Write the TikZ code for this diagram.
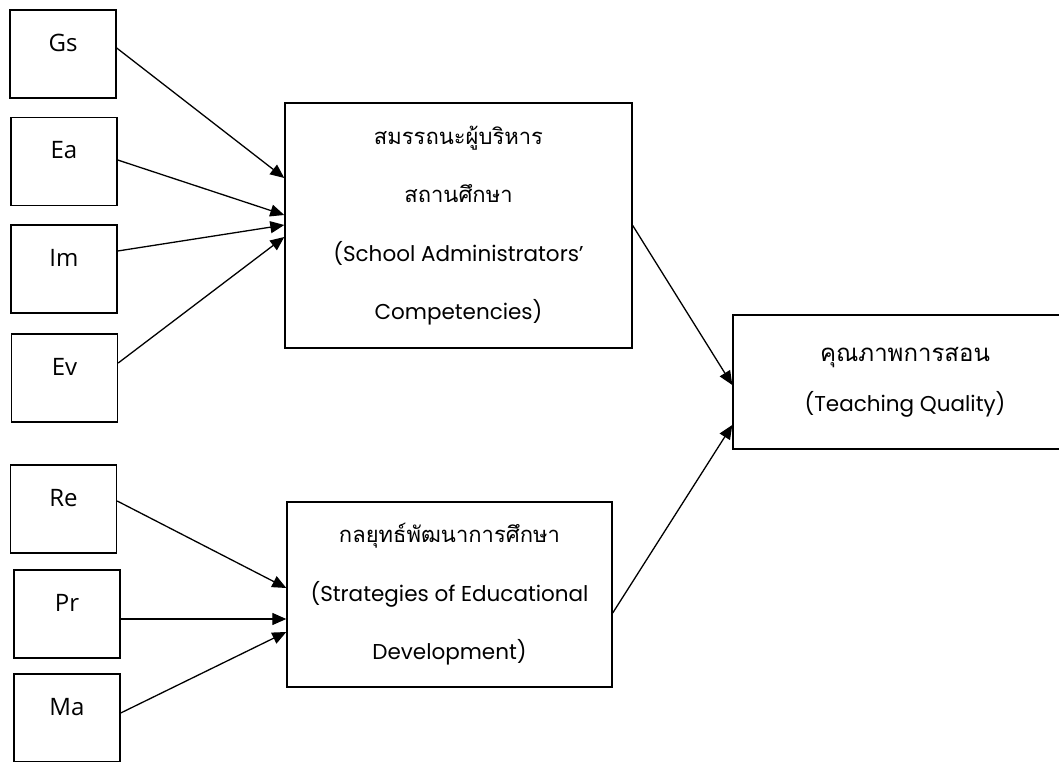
\documentclass[tikz,border=0pt]{standalone}
\usepackage{fontspec}
\setmainfont{Open Sans}
\newfontfamily\thaifont[Script=Thai]{Loma}
\newfontfamily\latinfont{Poppins}
\newcommand{\eng}[1]{{\latinfont\fontsize{21.5}{58.5}\selectfont #1}}
\usetikzlibrary{
    positioning, % posicionamento relativo
    arrows.meta  % pontas de seta
}

\begin{document}
\begin{tikzpicture}[x=1pt, y=1pt]

    % --- Estilos ---
    \tikzset{
        var/.style={draw, line width=1.4pt, minimum width=106pt, minimum height=88pt,
            inner sep=0pt, font=\fontsize{24}{28}\selectfont,
            text height=17pt, text depth=22pt},
        construct/.style={draw, line width=1.4pt, align=center, inner sep=0pt,
            font=\thaifont\fontsize{22}{58.5}\selectfont},
        arrow/.style={-{Triangle[length=14pt, width=12pt]}, line width=1.3pt, black}
    }

    \useasboundingbox (0,0) rectangle (1059,-762);

    % --- Variaveis observadas ---
    \node[var] (gs) at (63,-54)    {Gs};
    \node[var] (ea) at (64,-161.5) {Ea};
    \node[var] (im) at (64,-269)   {Im};
    \node[var] (ev) at (64.5,-378) {Ev};
    \node[var] (re) at (63.5,-509) {Re};
    \node[var] (pr) at (67,-614)   {Pr};
    \node[var] (ma) at (67,-718)   {Ma};

    % --- Construtos ---
    \node[construct, minimum width=347pt, minimum height=245pt] (comp) at (458.5,-225.5)
        {สมรรถนะผู้บริหาร\\ สถานศึกษา\\ \eng{(School Administrators’}\\ \eng{Competencies)}};
    \node[construct, minimum width=325pt, minimum height=185pt] (strat) at (449.5,-594.5)
        {กลยุทธ์พัฒนาการศึกษา\\ \eng{(Strategies of Educational}\\ \eng{Development)}};
    \node[construct, minimum width=344pt, minimum height=134pt,
          font=\thaifont\fontsize{24}{50}\selectfont] (quality) at (905,-382)
        {คุณภาพการสอน\\ \eng{(Teaching Quality)}};

    % --- Setas ---
    \draw[arrow] ([yshift=6pt]gs.east)   -- ([yshift=47.5pt]comp.west);
    \draw[arrow] ([yshift=1.5pt]ea.east) -- ([yshift=10.5pt]comp.west);
    \draw[arrow] ([yshift=18pt]im.east)  -- ([yshift=0.5pt]comp.west);
    \draw[arrow] ([yshift=15pt]ev.east)  -- ([yshift=-11.5pt]comp.west);

    \draw[arrow] ([yshift=8pt]re.east)   -- ([yshift=6.5pt]strat.west);
    \draw[arrow] ([yshift=-5pt]pr.east)  -- ([yshift=-24.5pt]strat.west);
    \draw[arrow] ([yshift=5pt]ma.east)   -- ([yshift=-37.5pt]strat.west);

    \draw[arrow] (comp.east) -- ([yshift=-3pt]quality.west);
    \draw[arrow] ([yshift=-18.5pt]strat.east) -- ([yshift=-43pt]quality.west);

\end{tikzpicture}
\end{document}
